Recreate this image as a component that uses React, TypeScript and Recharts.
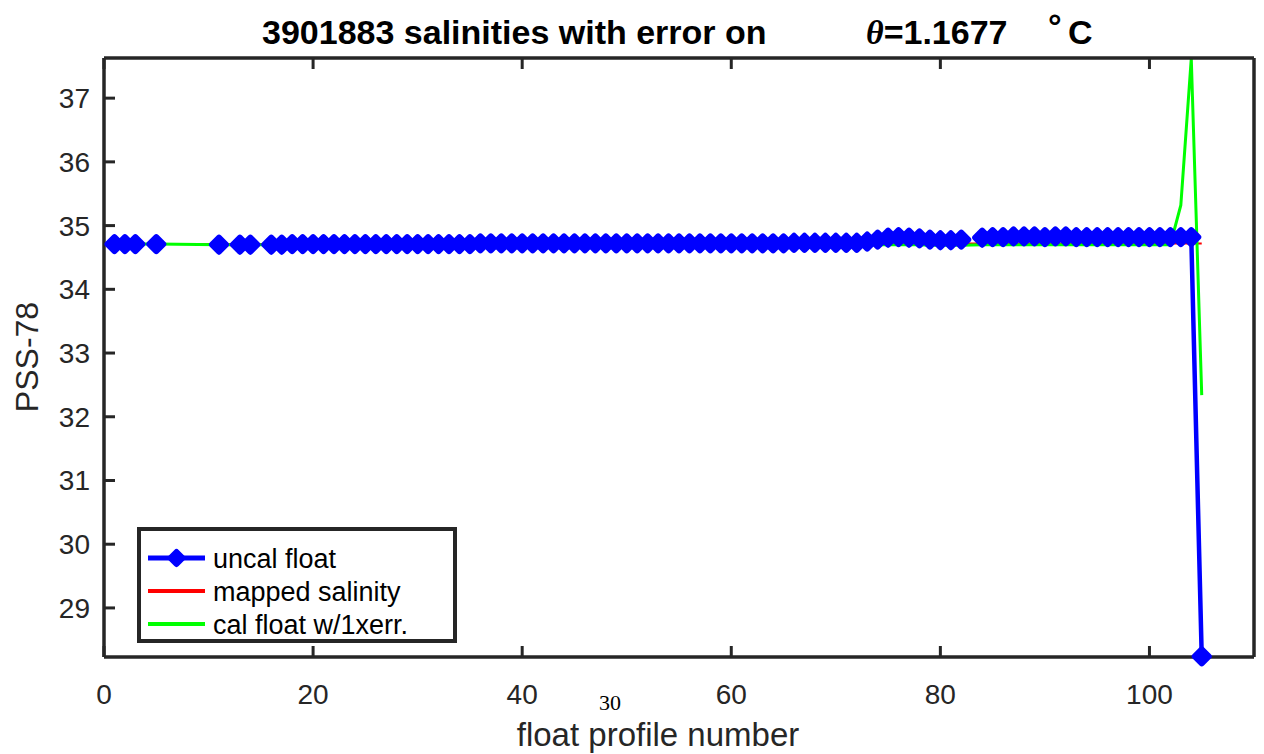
import React from "react";
import { ComposedChart, Line, XAxis, YAxis, Legend } from "recharts";

// every profile 1..105; missing profiles carry null so the blue line breaks there
const profiles = [
  1, 2, 3, 4, 5, 6, 7, 8, 9, 10, 11, 12, 13, 14, 15,
  16, 17, 18, 19, 20, 21, 22, 23, 24, 25, 26, 27, 28, 29, 30,
  31, 32, 33, 34, 35, 36, 37, 38, 39, 40, 41, 42, 43, 44, 45,
  46, 47, 48, 49, 50, 51, 52, 53, 54, 55, 56, 57, 58, 59, 60,
  61, 62, 63, 64, 65, 66, 67, 68, 69, 70, 71, 72, 73, 74, 75,
  76, 77, 78, 79, 80, 81, 82, 83, 84, 85, 86, 87, 88, 89, 90,
  91, 92, 93, 94, 95, 96, 97, 98, 99, 100, 101, 102, 103, 104, 105,
];

const uncalFloat = [
  34.71, 34.71, 34.71, null, 34.71, null, null, null, null, null, 34.7, null, 34.7, 34.7, null,
  34.7, 34.7, 34.71, 34.71, 34.71, 34.71, 34.71, 34.71, 34.71, 34.71, 34.71, 34.71, 34.71, 34.71, 34.71,
  34.71, 34.71, 34.71, 34.71, 34.71, 34.72, 34.72, 34.72, 34.72, 34.72, 34.72, 34.72, 34.72, 34.72, 34.72,
  34.72, 34.72, 34.72, 34.72, 34.72, 34.72, 34.72, 34.72, 34.72, 34.72, 34.72, 34.72, 34.72, 34.72, 34.72,
  34.72, 34.72, 34.72, 34.72, 34.72, 34.73, 34.73, 34.73, 34.73, 34.73, 34.73, 34.73, 34.75, 34.78, 34.81,
  34.82, 34.81, 34.8, 34.78, 34.77, 34.77, 34.78, null, 34.81, 34.82, 34.82, 34.83, 34.83, 34.83, 34.82,
  34.83, 34.83, 34.82, 34.82, 34.82, 34.82, 34.82, 34.82, 34.82, 34.82, 34.82, 34.82, 34.82, 34.82, 28.24,
];

const mappedSalinity = [
  34.71, 34.71, 34.71, null, 34.71, null, null, null, null, null, 34.71, null, 34.71, 34.71, null,
  34.71, 34.71, 34.71, 34.71, 34.71, 34.71, 34.71, 34.71, 34.71, 34.71, 34.71, 34.71, 34.71, 34.71, 34.71,
  34.71, 34.71, 34.71, 34.71, 34.71, 34.71, 34.71, 34.71, 34.71, 34.71, 34.71, 34.71, 34.71, 34.71, 34.71,
  34.71, 34.71, 34.71, 34.71, 34.71, 34.71, 34.71, 34.71, 34.71, 34.71, 34.71, 34.71, 34.71, 34.71, 34.71,
  34.71, 34.71, 34.71, 34.71, 34.71, 34.71, 34.71, 34.71, 34.71, 34.71, 34.71, 34.71, 34.72, 34.72, 34.72,
  34.72, 34.72, 34.72, 34.72, 34.72, 34.72, 34.72, null, 34.72, 34.72, 34.72, 34.72, 34.72, 34.72, 34.72,
  34.72, 34.72, 34.72, 34.72, 34.72, 34.72, 34.72, 34.72, 34.72, 34.72, 34.72, 34.72, 34.72, 34.72, 34.72,
];

const calFloat = [
  34.71, 34.71, 34.71, null, 34.71, null, null, null, null, null, 34.7, null, 34.7, 34.7, null,
  34.7, 34.7, 34.7, 34.7, 34.7, 34.7, 34.7, 34.7, 34.7, 34.7, 34.7, 34.7, 34.7, 34.7, 34.7,
  34.7, 34.7, 34.7, 34.7, 34.7, 34.7, 34.7, 34.7, 34.7, 34.7, 34.7, 34.7, 34.7, 34.7, 34.7,
  34.7, 34.7, 34.7, 34.7, 34.7, 34.7, 34.7, 34.7, 34.7, 34.7, 34.7, 34.7, 34.7, 34.7, 34.7,
  34.7, 34.7, 34.7, 34.7, 34.7, 34.7, 34.7, 34.7, 34.7, 34.7, 34.7, 34.7, 34.7, 34.7, 34.7,
  34.7, 34.7, 34.7, 34.69, 34.69, 34.69, 34.69, null, 34.7, 34.7, 34.7, 34.7, 34.7, 34.7, 34.7,
  34.7, 34.7, 34.7, 34.7, 34.7, 34.7, 34.7, 34.7, 34.7, 34.7, 34.7, 34.7, 35.32, 37.62, 32.34,
];

const xTicks = [0, 20, 40, 60, 80, 100];
const yTicks = [29, 30, 31, 32, 33, 34, 35, 36, 37];

const data = profiles.map((p, i) => ({
  profile: p,
  uncal: uncalFloat[i],
  mapped: mappedSalinity[i],
  cal: calFloat[i],
}));

const AX = "#262626";
const FONT = "'Liberation Sans', Arial, Helvetica, sans-serif";
const SERIF = "'Liberation Serif', 'Times New Roman', serif";

// ticks drawn inward like matlab
const BottomTick = (props: any) => {
  const { x, y, payload } = props;
  return (
    <g>
      <line x1={x} y1={y} x2={x} y2={y - 11} stroke={AX} strokeWidth={3} />
      <text x={x} y={y + 27} dy="0.71em" textAnchor="middle" fill={AX} fontSize={28} fontFamily={FONT}>
        {payload.value}
      </text>
    </g>
  );
};
const TopTick = (props: any) => {
  const { x, y } = props;
  return <line x1={x} y1={y} x2={x} y2={y + 11} stroke={AX} strokeWidth={3} />;
};
const LeftTick = (props: any) => {
  const { x, y, payload } = props;
  return (
    <g>
      <line x1={x} y1={y} x2={x + 11} y2={y} stroke={AX} strokeWidth={3} />
      <text x={x - 14} y={y} dy="0.355em" textAnchor="end" fill={AX} fontSize={28} fontFamily={FONT}>
        {payload.value}
      </text>
    </g>
  );
};
const RightTick = (props: any) => {
  const { x, y } = props;
  return <line x1={x} y1={y} x2={x - 11} y2={y} stroke={AX} strokeWidth={3} />;
};

// fat rounded diamond, like matlab's 'd' marker with a thick edge
const Diamond = (props: any) => {
  const { cx, cy, key, value } = props;
  if (cx == null || cy == null || value == null) return <g key={key} />;
  const r = 7;
  return (
    <polygon
      key={key}
      points={`${cx},${cy - r} ${cx + r},${cy} ${cx},${cy + r} ${cx - r},${cy}`}
      fill="#0000ff"
      stroke="#0000ff"
      strokeWidth={6}
      strokeLinejoin="round"
    />
  );
};

const renderLegend = () => (
  <div style={{ width: 320, height: 116, boxSizing: "border-box", border: `4px solid ${AX}`, background: "#fff" }}>
    <svg width={312} height={108} style={{ display: "block", overflow: "visible" }}>
      <line x1={7} y1={27} x2={64} y2={27} stroke="#0000ff" strokeWidth={5} />
      <polygon points="35.5,21 41.5,27 35.5,33 29.5,27" fill="#0000ff" stroke="#0000ff" strokeWidth={6} strokeLinejoin="round" />
      <text x={72} y={27} dy="0.355em" fontSize={27} fontFamily={FONT} fill="#000">uncal float</text>
      <line x1={7} y1={60} x2={64} y2={60} stroke="#ff0000" strokeWidth={4} />
      <text x={72} y={60} dy="0.355em" fontSize={27} fontFamily={FONT} fill="#000">mapped salinity</text>
      <line x1={7} y1={93} x2={64} y2={93} stroke="#00ff00" strokeWidth={4} />
      <text x={72} y={93} dy="0.355em" fontSize={27} fontFamily={FONT} fill="#000">cal float w/1xerr.</text>
    </svg>
  </div>
);

export default function App() {
  return (
    <div style={{ position: "absolute", left: 0, top: 0, width: 1264, height: 754, background: "#fff" }}>
      <ComposedChart width={1264} height={754} data={data} margin={{ top: 48, right: 0, bottom: 0, left: 0 }}>
        <XAxis
          xAxisId="bottom"
          dataKey="profile"
          type="number"
          domain={[0, 110]}
          ticks={xTicks}
          height={97}
          tickSize={0}
          tickMargin={0}
          tickLine={false}
          tick={<BottomTick />}
          axisLine={{ stroke: AX, strokeWidth: 3.5 }}
          interval={0}
        />
        <XAxis
          xAxisId="top"
          orientation="top"
          dataKey="profile"
          type="number"
          domain={[0, 110]}
          ticks={xTicks}
          height={10}
          tickSize={0}
          tickMargin={0}
          tickLine={false}
          tick={<TopTick />}
          axisLine={{ stroke: AX, strokeWidth: 3.5 }}
          interval={0}
        />
        <YAxis
          yAxisId="left"
          type="number"
          domain={[28.23, 37.63]}
          ticks={yTicks}
          width={104}
          tickSize={0}
          tickMargin={0}
          tickLine={false}
          tick={<LeftTick />}
          axisLine={{ stroke: AX, strokeWidth: 3.5 }}
          interval={0}
        />
        <YAxis
          yAxisId="right"
          orientation="right"
          type="number"
          domain={[28.23, 37.63]}
          ticks={yTicks}
          width={10}
          tickSize={0}
          tickMargin={0}
          tickLine={false}
          tick={<RightTick />}
          axisLine={{ stroke: AX, strokeWidth: 3.5 }}
          interval={0}
        />
        <Line
          xAxisId="bottom"
          yAxisId="left"
          dataKey="uncal"
          stroke="#0000ff"
          strokeWidth={4.5}
          dot={Diamond}
          activeDot={false}
          isAnimationActive={false}
          type="linear"
        />
        <Line
          xAxisId="bottom"
          yAxisId="left"
          dataKey="mapped"
          stroke="#ff0000"
          strokeWidth={2}
          dot={false}
          activeDot={false}
          connectNulls
          isAnimationActive={false}
          type="linear"
        />
        <Line
          xAxisId="bottom"
          yAxisId="left"
          dataKey="cal"
          stroke="#00ff00"
          strokeWidth={3}
          dot={false}
          activeDot={false}
          connectNulls
          isAnimationActive={false}
          type="linear"
        />
        <Legend
          layout="vertical"
          align="center"
          verticalAlign="middle"
          content={renderLegend}
          wrapperStyle={{ position: "absolute", left: 137, top: 527, width: 320, height: 116 }}
        />
      </ComposedChart>
      <svg
        width={1264}
        height={754}
        style={{ position: "absolute", left: 0, top: 0, pointerEvents: "none" }}
      >
        <text x={262} y={44} fontSize={34} fontWeight="bold" fontFamily={FONT} fill="#000">
          3901883 salinities with error on
        </text>
        <text x={866} y={44} fontSize={34} fontWeight="bold" fill="#000">
          <tspan fontFamily={SERIF} fontStyle="italic">θ</tspan>
          <tspan fontFamily={FONT}>=1.1677</tspan>
        </text>
        <text x={1048} y={38} fontSize={34} fontWeight="bold" fontFamily={FONT} fill="#000">°</text>
        <text x={1068} y={44} fontSize={34} fontWeight="bold" fontFamily={FONT} fill="#000">C</text>
        <text
          x={38}
          y={357}
          transform="rotate(-90 38 357)"
          textAnchor="middle"
          fontSize={32}
          fontFamily={FONT}
          fill={AX}
        >
          PSS-78
        </text>
        <text x={658} y={746} textAnchor="middle" fontSize={33} fontFamily={FONT} fill={AX}>
          float profile number
        </text>
        <text x={610} y={710} textAnchor="middle" fontSize={22} fontFamily={SERIF} fill="#000">
          30
        </text>
      </svg>
    </div>
  );
}
